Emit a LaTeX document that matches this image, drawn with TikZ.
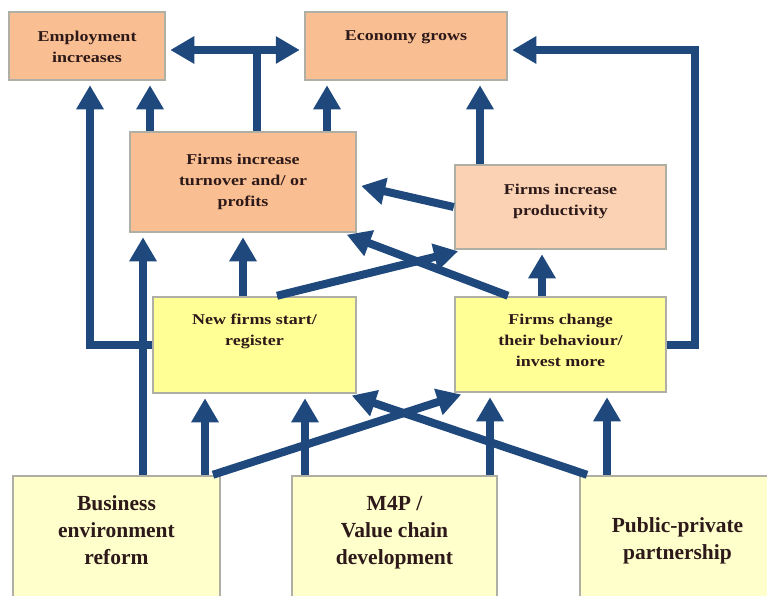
\documentclass[tikz,border=0pt]{standalone}
\usepackage{fontspec}
\setmainfont{Liberation Serif}
\newfontfamily\boxfont{Liberation Serif}[FakeStretch=1.2]
\usetikzlibrary{arrows.meta}
\definecolor{flowblue}{RGB}{31,73,125}
\definecolor{boxgray}{RGB}{175,175,165}
\definecolor{orangebox}{RGB}{249,190,145}
\definecolor{paleorange}{RGB}{251,211,180}
\definecolor{yellowbox}{RGB}{255,255,150}
\definecolor{paleyellow}{RGB}{255,255,204}
\definecolor{txtbrown}{RGB}{45,25,25}
\tikzset{
  obox/.style={draw=boxgray, line width=2.5pt, inner sep=0pt},
  intext/.style={anchor=north, align=center, inner sep=0pt, text=txtbrown,
    font=\boxfont\bfseries\fontsize{15}{21}\selectfont},
  bigtext/.style={intext, font=\bfseries\fontsize{21.5}{27}\selectfont},
  link/.style={draw=flowblue, line width=8pt},
  flow/.style={link, -{Triangle[width=26pt,length=24pt]}, shorten >=4pt}
}
\begin{document}
\begin{tikzpicture}[x=1pt,y=-1pt]
\useasboundingbox (0,0) rectangle (767,595);
\clip (0,0) rectangle (767,595);
\fill[white] (0,0) rectangle (767,595);
%
% top row: results
\node[obox, fill=orangebox, minimum width=156pt, minimum height=68pt,
  label={[intext, yshift=-20pt]north:Employment\\increases}] (emp) at (87,46) {};
\node[obox, fill=orangebox, minimum width=202pt, minimum height=68pt,
  label={[intext, yshift=-20pt]north:Economy grows}] (eco) at (406,46) {};
% second row
\node[obox, fill=orangebox, minimum width=226pt, minimum height=100pt,
  label={[intext, yshift=-23pt]north:Firms increase\\turnover and/ or\\profits}] (turn) at (243,182) {};
\node[obox, fill=paleorange, minimum width=211pt, minimum height=84pt,
  label={[intext, yshift=-20pt]north:Firms increase\\productivity}] (prod) at (560.5,207) {};
% third row
\node[obox, fill=yellowbox, minimum width=203pt, minimum height=96pt,
  label={[intext, yshift=-18pt]north:New firms start/\\register}] (newf) at (254.5,345) {};
\node[obox, fill=yellowbox, minimum width=211pt, minimum height=95pt,
  label={[intext, yshift=-18pt]north:Firms change\\their behaviour/\\invest more}] (chg) at (560.5,344.5) {};
% bottom row: instruments
\node[obox, fill=paleyellow, minimum width=207pt, minimum height=134pt,
  label={[bigtext, yshift=-21pt]north:Business\\environment\\reform}] (ber) at (116.5,543) {};
\node[obox, fill=paleyellow, minimum width=205pt, minimum height=134pt,
  label={[bigtext, yshift=-21pt]north:M4P /\\Value chain\\development}] (m4p) at (394.5,543) {};
\node[obox, fill=paleyellow, minimum width=195pt, minimum height=134pt,
  label={[bigtext, yshift=-43pt]north:Public-private\\partnership}] (ppp) at (677.5,543) {};
%
% columns and rows of the links
\coordinate (x90) at (90,0);
\coordinate (x143) at (143,0);
\coordinate (x150) at (150,0);
\coordinate (x205) at (205,0);
\coordinate (x243) at (243,0);
\coordinate (x257) at (257,0);
\coordinate (x305) at (305,0);
\coordinate (x327) at (327,0);
\coordinate (x480) at (480,0);
\coordinate (x490) at (490,0);
\coordinate (x542) at (542,0);
\coordinate (x607) at (607,0);
\coordinate (x695) at (695,0);
\coordinate (split) at (257,50);
%
% into the top row
\draw[flow] (newf.west) -| (x90 |- emp.south);
\draw[flow] (turn.north -| x150) -- (x150 |- emp.south);
\draw[flow] (turn.north -| x327) -- (x327 |- eco.south);
\draw[link] (turn.north -| x257) -- (split);
\draw[flow] (split) -- (split -| emp.east);
\draw[flow] (split) -- (split -| eco.west);
\draw[flow] (prod.north -| x480) -- (x480 |- eco.south);
\draw[flow] (chg.east) -| (x695 |- split) -- (split -| eco.east);
%
% into the second row
\draw[flow] (ber.north -| x143) -- (x143 |- turn.south);
\draw[flow] (newf.north -| x243) -- (x243 |- turn.south);
\draw[flow] (chg.north -| x542) -- (x542 |- prod.south);
\draw[flow] (prod.west) -- ([yshift=-3pt]turn.east);
\draw[flow] ([xshift=-52.5pt]chg.north) -- ([xshift=100pt]turn.south);
\draw[flow] ([xshift=22.5pt]newf.north) -- ([xshift=-98.5pt]prod.south);
%
% into the third row
\draw[flow] (ber.north -| x205) -- (x205 |- newf.south);
\draw[flow] (m4p.north -| x305) -- (x305 |- newf.south);
\draw[flow] (m4p.north -| x490) -- (x490 |- chg.south);
\draw[flow] (ppp.north -| x607) -- (x607 |- chg.south);
\draw[flow] ([xshift=96.5pt]ber.north) -- ([xshift=-95.5pt]chg.south);
\draw[flow] ([xshift=-90.5pt]ppp.north) -- ([xshift=93.5pt]newf.south);
\end{tikzpicture}
\end{document}
